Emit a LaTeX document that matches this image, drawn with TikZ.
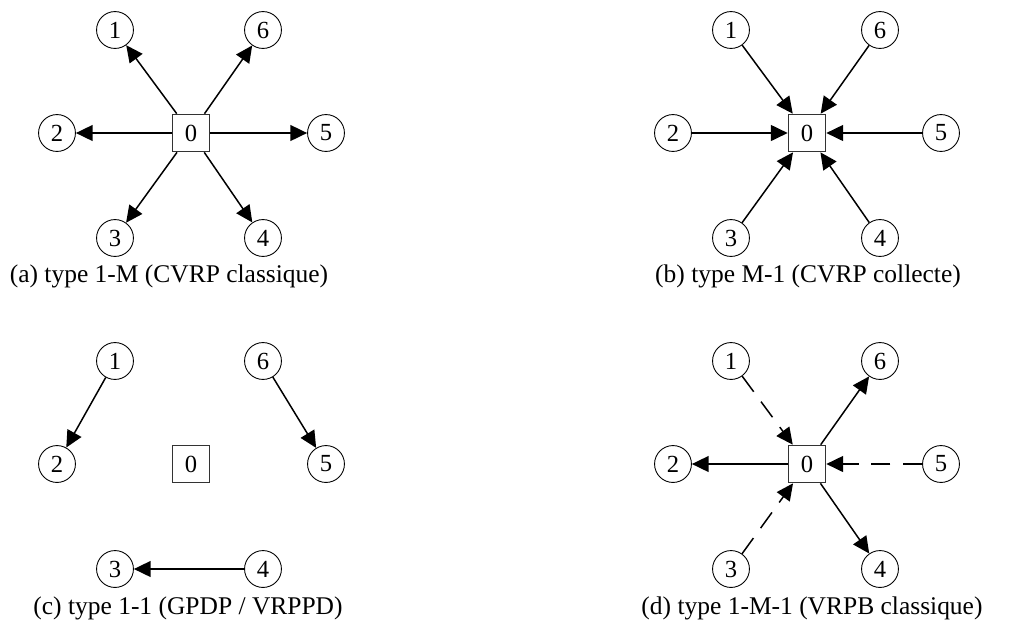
\documentclass[tikz,border=0pt]{standalone}
\usepackage{fontspec}
\setmainfont{Liberation Serif}
\usetikzlibrary{arrows.meta}
\tikzset{
  cli/.style={draw=black,circle,line width=0.5pt,minimum size=21pt,inner sep=0pt,font=\fontsize{14}{16}\selectfont},
  dep/.style={draw=black!80,rectangle,line width=0.5pt,minimum size=21.5pt,inner sep=0pt,font=\fontsize{14}{16}\selectfont},
  legende/.style={font=\fontsize{14.5}{17}\selectfont,inner sep=0pt},
  arc/.style={-{Triangle[length=9.5pt,width=9pt]},line width=0.85pt},
  arcd/.style={arc,dash pattern=on 11pt off 7pt},
}
\begin{document}
\begin{tikzpicture}[x=0.02cm,y=-0.02cm]
\useasboundingbox (0,0) rectangle (1011,630);
% (a) type 1-M
\node[dep] (a0) at (191,133) {0};
\node[cli] (a1) at (115,30) {1};
\node[cli] (a6) at (263,30) {6};
\node[cli] (a2) at (57,133) {2};
\node[cli] (a5) at (326,133) {5};
\node[cli] (a3) at (115,238) {3};
\node[cli] (a4) at (263,238) {4};
\node[legende] (capa) at (169,276) {(a) type 1-M (CVRP classique)};
\draw[arc] (a0) -- (a1);
\draw[arc] (a0) -- (a6);
\draw[arc] (a0) -- (a2);
\draw[arc] (a0) -- (a5);
\draw[arc] (a0) -- (a3);
\draw[arc] (a0) -- (a4);
% (b) type M-1
\node[dep] (b0) at (807,133) {0};
\node[cli] (b1) at (731,30) {1};
\node[cli] (b6) at (880,30) {6};
\node[cli] (b2) at (673,133) {2};
\node[cli] (b5) at (941,133) {5};
\node[cli] (b3) at (731,238) {3};
\node[cli] (b4) at (880,238) {4};
\node[legende] (capb) at (808,276) {(b) type M-1 (CVRP collecte)};
\draw[arc] (b1) -- (b0);
\draw[arc] (b6) -- (b0);
\draw[arc] (b2) -- (b0);
\draw[arc] (b5) -- (b0);
\draw[arc] (b3) -- (b0);
\draw[arc] (b4) -- (b0);
% (c) type 1-1
\node[dep] (c0) at (191,464) {0};
\node[cli] (c1) at (115,361) {1};
\node[cli] (c6) at (263,361) {6};
\node[cli] (c2) at (57,464) {2};
\node[cli] (c5) at (326,464) {5};
\node[cli] (c3) at (115,569) {3};
\node[cli] (c4) at (263,569) {4};
\node[legende] (capc) at (188,608) {(c) type 1-1 (GPDP / VRPPD)};
\draw[arc] (c1) -- (c2);
\draw[arc] (c6) -- (c5);
\draw[arc] (c4) -- (c3);
% (d) type 1-M-1
\node[dep] (d0) at (807,464) {0};
\node[cli] (d1) at (731,361) {1};
\node[cli] (d6) at (880,361) {6};
\node[cli] (d2) at (673,464) {2};
\node[cli] (d5) at (941,464) {5};
\node[cli] (d3) at (731,569) {3};
\node[cli] (d4) at (880,569) {4};
\node[legende] (capd) at (812,608) {(d) type 1-M-1 (VRPB classique)};
\draw[arcd] (d1) -- (d0);
\draw[arcd] (d5) -- (d0);
\draw[arcd] (d3) -- (d0);
\draw[arc] (d0) -- (d2);
\draw[arc] (d0) -- (d6);
\draw[arc] (d0) -- (d4);
\end{tikzpicture}
\end{document}
